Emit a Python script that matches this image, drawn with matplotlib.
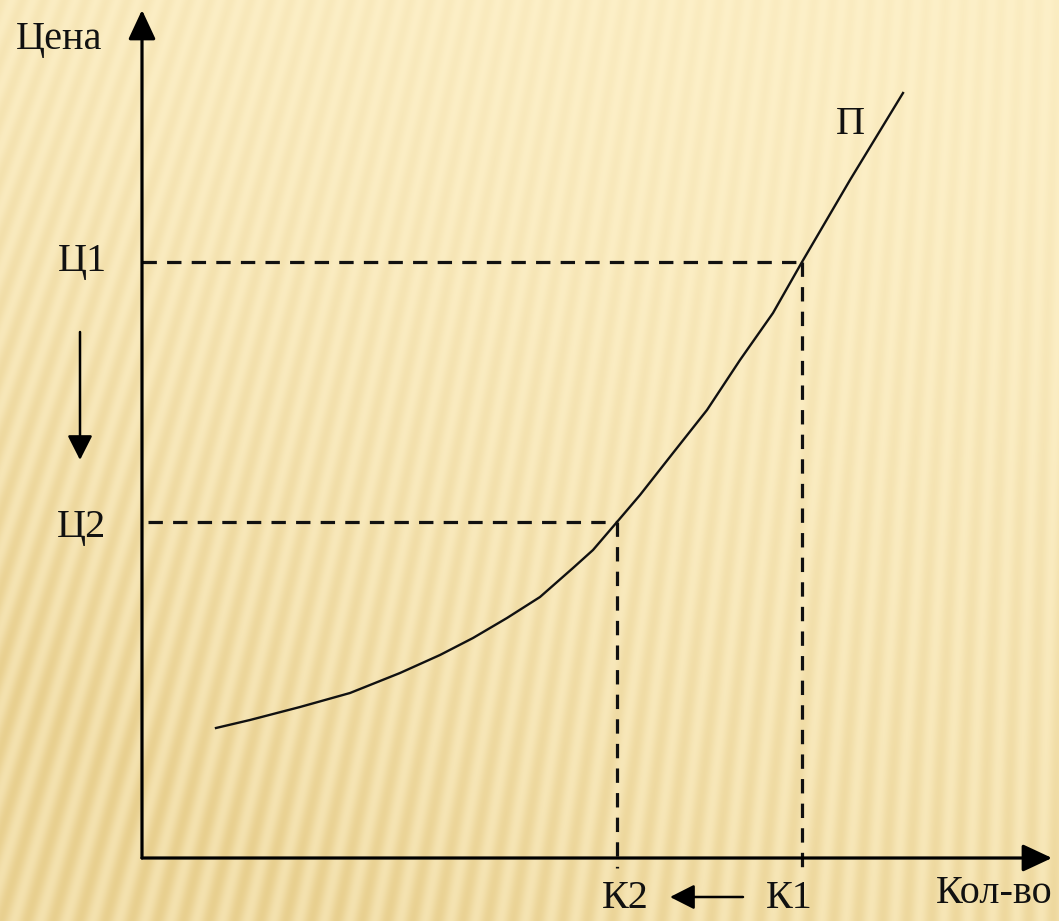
''' Кривая предложения: снижение цены Ц1 -> Ц2, объём К1 -> К2 '''
import numpy as np
import matplotlib
matplotlib.use('Agg')
import matplotlib.pyplot as plt

# кривая П (количество, цена) в условных единицах
q_curve = [7.4, 10.8, 15.8, 20.8, 25.8, 29.8, 33.1, 36.5, 39.8, 43.1,
           45.1, 47.5, 49.8, 53.1, 56.5, 59.8, 63.1, 66.0, 70.8, 76.1]
p_curve = [13.0, 13.8, 15.1, 16.5, 18.5, 20.3, 22.0, 24.0, 26.1, 29.0,
           30.8, 33.6, 36.3, 40.5, 44.8, 49.8, 54.5, 59.6, 67.8, 76.5]

# точки на кривой
q1, p1 = 66.0, 59.6
q2, p2 = 47.5, 33.6

W, H = 1059, 921
fig = plt.figure(figsize=(W / 100, H / 100), dpi=100)

# фон: полосы веером, светлее вверху
bg = fig.add_axes([0, 0, 1, 1])
bg.axis('off')
yy, xx = np.mgrid[0:H, 0:W].astype(float)
theta = np.arctan2(xx - 1150.0, yy + 3000.0)
stripe = 0.5 + 0.5 * np.cos(2 * np.pi * theta / 0.0062)
t = np.clip(0.7 * (yy / H) ** 1.4 + 0.45 * (1 - xx / W) ** 2 * (0.5 + yy / H), 0, 1)
light = np.array([0xFD, 0xF0, 0xC8]) / 255.0
dark = np.array([0xE8, 0xCF, 0x8E]) / 255.0
mix = np.clip(0.45 * t + stripe * (0.12 + 0.4 * t), 0, 1)
img = light[None, None, :] * (1 - mix[..., None]) + dark[None, None, :] * mix[..., None]
bg.imshow(img, extent=(0, W, H, 0), aspect='auto', interpolation='bilinear')
bg.set_xlim(0, W)
bg.set_ylim(H, 0)

ax = fig.add_axes([0, 0, 1, 1])
ax.patch.set_alpha(0)
ax.axis('off')
ax.set_xlim(-14.2, 91.7)
ax.set_ylim(-6.3, 85.8)

font = dict(family=['Liberation Serif', 'DejaVu Serif'], size=29, color='#111111')
arrow = dict(arrowstyle='-|>,head_length=0.9,head_width=0.42', lw=2.3,
             color='black', mutation_scale=20, shrinkA=0, shrinkB=0)

# оси
ax.annotate('', xy=(0, 84.8), xytext=(0, 0), arrowprops=arrow)
ax.annotate('', xy=(91.0, 0), xytext=(0, 0), arrowprops=arrow)

# кривая
ax.plot(q_curve, p_curve, color='#111111', lw=1.7, solid_joinstyle='round')

# пунктир
dash = dict(color='#111111', lw=2.3, linestyle=(0, (4.5, 3.2)))
ax.plot([0, q1], [p1, p1], **dash)
ax.plot([q1, q1], [p1, -1.0], **dash)
ax.plot([0.6, q2], [p2, p2], **dash)
ax.plot([q2, q2], [p2, -1.0], **dash)

# стрелки изменения
small = dict(arrowstyle='-|>,head_length=0.75,head_width=0.38', lw=1.8,
             color='black', mutation_scale=20, shrinkA=0, shrinkB=0)
ax.annotate('', xy=(-6.2, 39.8), xytext=(-6.2, 52.6), arrowprops=small)
ax.annotate('', xy=(52.8, -3.9), xytext=(60.1, -3.9), arrowprops=small)

# подписи
ax.text(-8.3, 81.8, 'Цена', ha='center', va='center', **font)
ax.text(-6.0, p1, 'Ц1', ha='center', va='center', **font)
ax.text(-6.0, p2 - 0.6, 'Ц2', ha='center', va='center', **font)
ax.text(q2 + 0.8, -4.0, 'К2', ha='center', va='center', **font)
ax.text(q1 - 1.3, -4.0, 'К1', ha='center', va='center', **font)
ax.text(85.2, -3.5, 'Кол-во', ha='center', va='center', **font)
ax.text(70.8, 73.3, 'П', ha='center', va='center', **font)

fig.savefig('out.png', dpi=100)
